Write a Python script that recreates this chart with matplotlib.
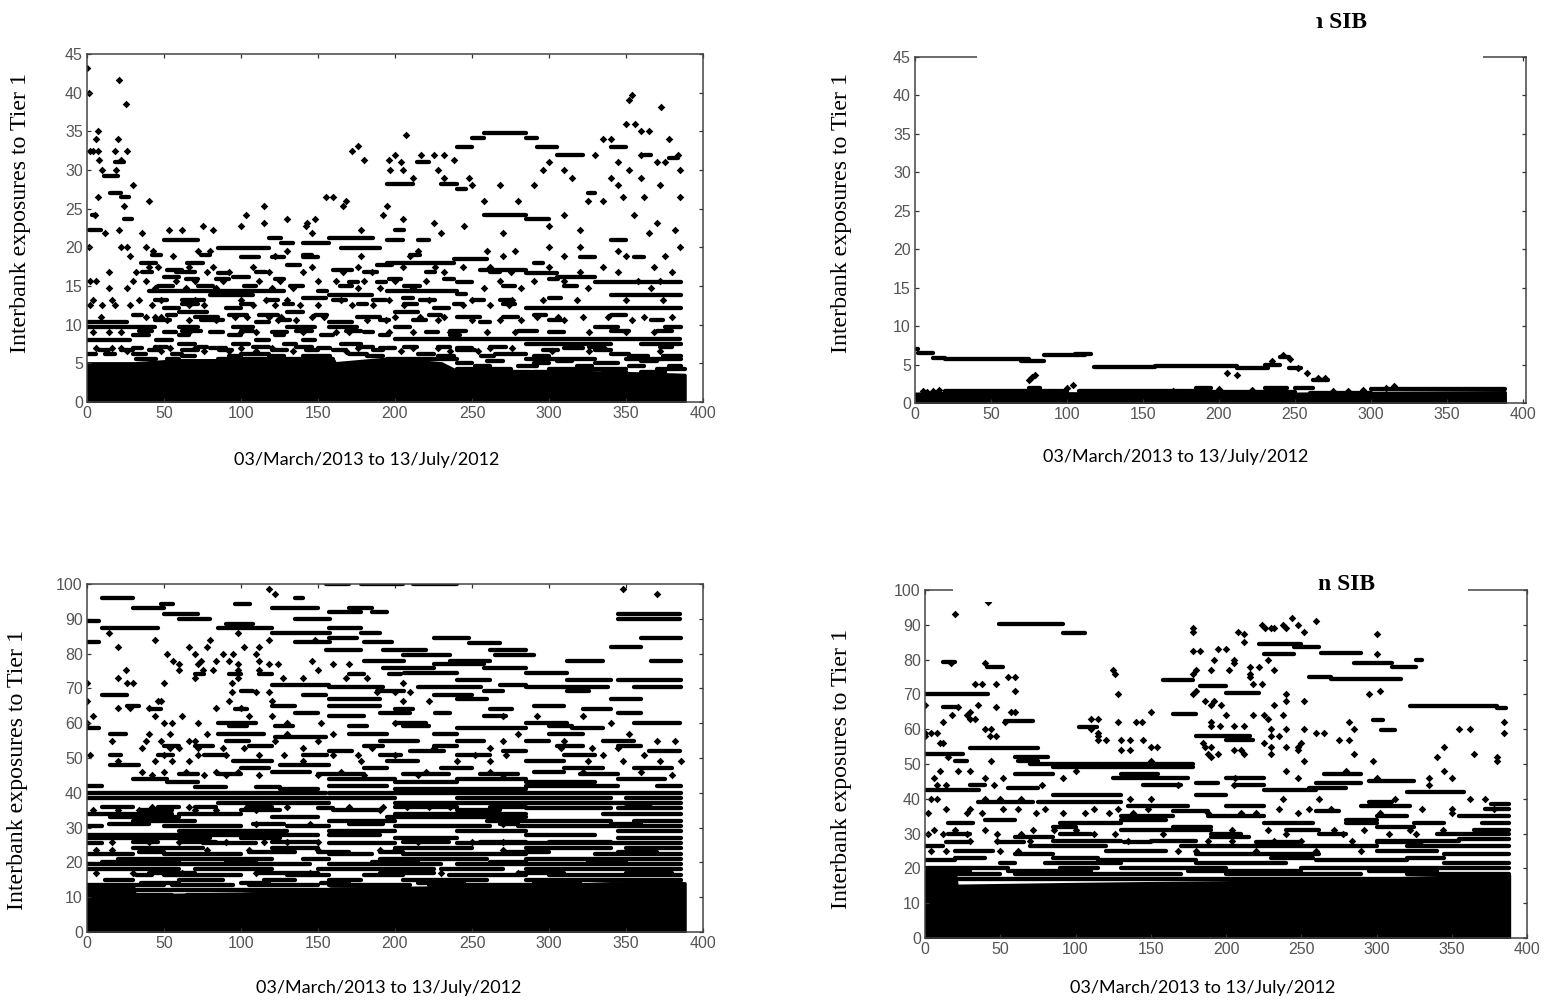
import matplotlib
matplotlib.use("Agg")
import matplotlib.pyplot as plt
from matplotlib.patches import Rectangle

W, H = 1547, 1001
X_TICKS = [0, 50, 100, 150, 200, 250, 300, 350, 400]
Y_LABEL = "Interbank exposures to Tier 1"
X_LABEL = "03/March/2013 to 13/July/2012"
SIB = "n SIB"

# solid black floor of each panel: x, top value
a_band_x = [0, 30, 31, 60, 160, 161, 195, 230, 240, 285, 340, 388]
a_band_y = [5.0, 5.0, 5.0, 5.4, 5.4, 5.0, 5.6, 5.0, 4.0, 4.0, 3.8, 3.5]
b_band_x = [0, 20, 190, 250, 300, 388]
b_band_y = [1.2, 1.3, 1.2, 1.2, 1.3, 1.4]
c_band_x = [0, 30, 31, 100, 157, 158, 285, 340, 388]
c_band_y = [13, 13, 10.5, 11, 12, 12.5, 13, 14, 14]
d_band_x = [0, 20, 21, 100, 200, 300, 388]
d_band_y = [18, 18, 15, 15.5, 16, 17, 18]

# horizontal streaks: (value, [x0, x1, x0, x1, ...])
a_runs = [
 (34.8,[258,285]),(34.2,[250,258,285,292]),(33,[240,250,292,305,340,350]),(32,[305,322,362,366]),(31.5,[378,384]),
 (31,[18,24,214,222]),(29.2,[11,20]),(28.2,[195,212,230,240]),(27.5,[240,246]),(27,[15,22,325,330]),(26.5,[22,27]),
 (24.2,[3,6,258,285]),(23.6,[24,29,285,300]),(22.2,[1,9,200,206]),(21,[50,72,195,205,215,222,340,350]),(21.2,[118,126,157,186]),
 (20.6,[126,134,140,157]),(19.9,[85,118,165,190]),(18.8,[100,112,120,128,140,150,320,330,355,362]),(18,[35,45,65,75,195,238,290,296]),
 (18.5,[238,260]),(17.7,[188,198,130,138]),(17.1,[255,285,160,172,52,62]),(16.7,[285,305,85,92]),(16.1,[305,330,50,60,95,105]),
 (15.5,[330,386,170,176,188,194,240,250]),(14.3,[40,128,195,240,150,156]),(13.9,[80,108,157,185,340,386]),(14,[240,246]),
 (13.4,[140,155,205,212,300,308]),(12.1,[50,60,285,386,90,100,225,235]),(11.6,[60,78,130,140,200,215]),(11,[175,190,240,255,270,280,70,85]),
 (10.3,[0,26,157,172,255,262,110,118]),(9.7,[0,44,157,175,60,72,95,108,130,148,200,210,330,345,375,386]),
 (9,[50,58,80,88,120,130,180,186,220,228,300,310]),(8.2,[200,385]),(8,[0,28,45,55,110,118,140,148]),
 (7.5,[60,70,95,105,128,136,165,178,285,340,360,386]),(7,[30,36,80,90,150,158,190,200,240,250,310,322]),
 (6.2,[0,6,12,18,30,38,55,62,100,118,170,182,215,225,265,285,340,352]),(5.6,[32,45,52,60,85,160,195,240,285,330,350,386]),
 (5.0,[240,250,290,300,330,345]),(4.3,[240,275,300,350,370,388]),
 (19,[42,48,74,80,140,146,210,216]),(16.8,[36,42,58,70,110,116,180,188,220,226,262,268]),(15.9,[64,72,84,92,122,128,196,204,232,238,300,306]),
 (15,[46,56,72,82,102,110,132,140,164,172,206,216,270,278,310,318]),(13.2,[44,52,62,76,116,124,160,168,186,194,216,226,250,258,268,276]),
 (12.7,[62,72,100,108,128,134,176,182,206,214,238,244,270,278]),(11.2,[30,36,52,58,92,104,112,124,148,156,222,230,290,298,340,350]),
 (10.6,[44,54,74,88,124,132,190,196,212,220,300,308,366,374]),(9.2,[34,42,62,74,100,108,136,146,168,178,236,246,280,292,340,352,370,380]),
 (8.6,[30,40,60,66,92,100,122,128,152,160,190,196,236,242]),(7.1,[44,52,72,78,108,118,136,146,176,186,206,214,228,236,262,272,326,336,372,380]),
 (6.7,[8,14,22,30,40,46,62,72,86,94,120,130,142,150,160,168,186,192,240,252,296,306,330,340]),
 (6.0,[62,70,92,100,118,128,140,158,182,192,228,238,256,264,290,300,352,364,374,386]),(5.3,[260,270,305,315,360,370]),
 (4.7,[252,262,280,292,318,328,352,362,378,386]),(3.9,[250,260,290,310,335,350,360,375]),
]
# isolated marks: (value, [x, x, ...])
a_rows = [
 (43.2,[0]),(41.6,[21]),(40,[1]),(39.7,[354]),(39,[352]),(38.5,[25]),(38.2,[373]),(36,[350,356]),(35,[7,360,365]),(34.5,[207]),
 (34,[6,20,335,340,378]),(33.1,[176]),(32.5,[2,4,7,18,26,172]),(32,[200,217,225,232,330,360,384]),(31.3,[8,22,180,196,238]),
 (31,[204,300,345,370,375]),(30,[10,19,197,205,228,296,310,352,385]),(29,[212,232,248,315,340,360]),(28,[30,250,268,290,345,372]),
 (26.5,[7,155,160,348,362,385]),(26,[40,168,258,280,325,335]),(25.3,[115,166,24,195]),(24.2,[5,103,192,310,355]),(23.6,[130,148,205]),
 (23.2,[115,143,225,370]),(22.8,[75,100,142,245,300]),(22.3,[21,53,62,82,178,320,382]),(21.8,[12,36,146,230,270,365]),
 (20,[1,22,26,38,300,320,385]),(19.5,[43,72,80,130,215,260,278,345]),(18.9,[28,56,122,178,210,270,310,350,375]),
 (17.4,[40,46,66,82,108,146,176,205,226,244,262,300,335,368]),(16.8,[14,32,78,92,118,140,166,185,232,275,320,345,380]),
 (15.6,[2,6,30,38,58,70,88,112,125,150,162,180,200,220,268,290,310,358,372]),(14.8,[14,26,44,64,84,120,134,176,190,212,258,282,325,366]),
 (13.2,[4,16,34,48,70,100,116,130,165,196,222,250,276,296,318,350,374]),(12.6,[2,10,18,28,42,66,76,108,122,138,150,172,186,206,244,262,274]),
 (11,[9,38,44,48,96,104,118,126,146,154,200,216,232,292,306,322,338,362,380]),(10.6,[52,66,84,124,136,182,194,228,250,268,282,310,354]),
 (9,[4,14,22,36,66,100,110,140,162,170,196,212,236,260,278,326,350,368]),(7,[6,16,22,44,54,70,100,120,144,176,212,228,262,276,336]),
 (6.6,[26,48,76,92,110,134,168,204,236,254,302,326,372]),
]

b_runs = [
 (7,[0,2]),(6.5,[2,12]),(5.9,[12,20]),(5.7,[20,75]),(5.5,[70,85]),(6.3,[85,112]),(6.4,[105,116]),(4.7,[118,158]),(4.85,[158,212]),
 (4.6,[212,232]),(5.0,[230,240]),(6.0,[240,246]),(4.6,[246,254]),(3.0,[262,272]),(1.6,[20,100,108,190]),(1.4,[190,250]),(2.0,[250,262]),
 (1.8,[300,388]),(1.3,[260,300]),(1.9,[75,82,185,195,230,245]),
]
b_rows = [
 (6.3,[242]),(5.7,[247]),(5.5,[235]),(4.6,[252]),(3.9,[205,258]),(3.7,[79,212]),(3.4,[77]),(3.2,[265,270]),(3.0,[75]),
 (2.3,[104]),(2.2,[315]),(2.0,[100,310]),(1.8,[200]),(1.7,[16,222,295]),(1.6,[5,285]),(1.5,[12,170,275]),(1.4,[8,180]),(1.2,[150]),
]

c_runs = [
 (100,[155,170,178,205,212,240]),(96,[10,30,135,140]),(94.3,[48,56,96,106]),(93,[30,50,120,150,170,185]),(91.5,[50,72,345,385]),
 (90,[60,80,135,158,345,385]),(92,[157,178,185,195]),(89.5,[0,8]),(87.3,[10,46,85,120,157,178]),(88.5,[90,108]),(86,[120,158,178,190]),
 (84.5,[157,175,360,386]),(83.3,[0,8,135,158,180,198]),(84.5,[225,248]),(83,[248,268]),(81,[155,178,192,220,262,285]),(82,[340,360]),
 (78,[180,206,236,262,312,335,366,386]),(79.5,[205,236,265,290]),(76,[192,225,258,285]),(77,[225,258]),(74.5,[206,240,285,312]),
 (72.5,[240,262,312,340,345,386]),(71,[120,157,268,285]),(70.3,[157,192,215,256,285,338,355,386]),(68,[10,26,225,250,140,155]),
 (67,[157,190,240,260,340,360]),(65,[157,190,26,34,120,135,290,310]),(63,[135,150,190,210,226,236,345,360]),(62,[157,180,258,272]),
 (60,[85,110,200,220,285,312,355,385]),(58.5,[0,8,240,285,315,335]),(57,[15,25,85,115,170,195,225,240,300,322]),(56,[122,155]),
 (55,[90,105,190,215,240,258,285,300,335,355]),(52,[157,172,210,232,270,285,365,385]),(49,[95,120,195,215,285,310]),(48,[15,34,125,157]),
 (47,[100,118,180,195,230,250,310,335,355,380]),(46,[120,145,290,310]),(44,[30,52,157,200,240,285,345,375]),(43,[52,72,200,240,285,330]),
 (42,[0,10,157,195,285,345,370,386]),(41,[125,150,200,285]),(40,[0,70,70,155,157,285,285,386]),(38.5,[0,120,120,158,157,200,240,340,350,386]),
 (37,[85,157,200,285,285,386]),(35.5,[150,160,285,340,345,386]),(34,[0,55,60,100,200,285,335,386]),(33,[15,60,120,150,195,285]),
 (32,[30,70,157,200,260,340,355,386]),(30.5,[0,10,50,100,130,157,200,262,280,386]),(29,[60,130,157,200,240,285,345,386]),
 (28,[0,36,36,150,157,190,285,330]),(27,[0,80,100,125,200,240,345,386]),(25.5,[0,10,75,110,157,200,240,285,285,386]),
 (24,[30,75,120,150,200,250,285,340,350,386]),(22.5,[0,30,50,100,157,185,205,285,330,386]),(21,[20,120,140,157,190,260,285,386]),
 (19.5,[0,145,157,230,240,386]),(18,[0,60,70,120,150,225,230,270,285,386]),(16.5,[32,42,50,100,130,157,180,205,235,285,300,386]),
 (15,[12,30,60,88,115,135,157,178,205,260,285,386]),(13.5,[0,50,55,95,105,150,157,210,222,386]),(12,[0,160,160,285,285,386]),
 (10.5,[0,55,65,130,140,210,240,386]),
 (74,[70,76,92,100,112,120,170,180,196,204]),(69.3,[100,108,188,206,258,270,312,326]),(64,[40,48,96,104,200,212,262,276,322,340]),
 (59.3,[92,104,122,134,170,182,205,222,300,315]),(53.5,[50,60,70,82,105,120,180,192,225,240,305,322,345,360]),
 (51,[15,22,46,56,76,90,140,156,190,204,240,262,310,330]),(45.5,[60,72,85,100,150,180,205,235,255,280,320,345]),
 (41.7,[70,90,110,125]),(36,[10,30,46,60,70,84,104,120,200,240,262,285,350,366]),(35,[35,55,100,125,160,190,240,268]),
 (31,[14,40,108,128,170,192,268,280,340,360]),(26,[30,46,62,84,120,150,205,235,255,285,300,340]),(23,[34,50,105,135,150,170,190,205,270,300,345,370]),
 (20.2,[10,60,90,110,185,215,262,285,325,350]),(17,[40,70,110,150,190,225,280,310,350,380]),(14.2,[35,60,100,118,152,170,215,245,290,320,350,386]),
]
c_rows = [
 (98.5,[118,348]),(97,[122,370]),(86,[14,98]),(84,[44,80,118,148]),(82,[20,66,78,102,112]),(80,[52,70,88,95,110]),(78,[56,74,84,92,112,146]),
 (77,[60,72,98,118,124,160,170]),(75.3,[25,60,75,82,98,112,150]),(73,[20,70,98,127,140,168,182]),(71.5,[0,26,30,50,94,205]),
 (69,[94,110,118,188,200,210]),(66.5,[0,46,48,92,120,205,222]),(64.5,[20,28,84,40,100]),(62,[4,44,62,120,105,270,292,322]),(60,[0,50,55,72,130,152,200,340]),
 (57,[40,54,78,130,160,280,352]),(55,[16,38,48,66,70,122,150,270,310,370,382]),(53,[36,54,60,72,88,102,140,185,225,262,308,328,345]),
 (51,[2,50,72,90,112,128,160,176,200,252,272,335,362]),(49,[20,44,55,66,140,178,240,262,325,348,372,386]),(46,[36,50,64,84,98,165,220,262,322,360]),
 (45,[42,76,90,112,150,180,215,270,380]),(36,[42,66,104,130,170,192,208,222,236]),(35,[4,20,34,54,70,84,110,190]),(31,[110,145,270]),
 (26,[16,40,60,90,115,130,150,215,250,270]),(23.5,[6,16,44,78,105,130,150,190,200,270]),(17,[6,30,62,110,145,230,280]),(12,[6,20,28]),
]

d_runs = [
 (90.3,[49,92]),(87.6,[92,106]),(79.2,[12,20]),(78,[41,52]),(70.2,[0,42]),(66.5,[12,22]),(62.5,[53,72]),(60.5,[102,114]),
 (64.3,[165,180]),(74.2,[158,178]),(72.3,[183,200]),(70.4,[200,222]),(58,[180,216]),(57,[200,218]),(84.5,[222,250]),(81.5,[225,245]),
 (83.5,[245,262]),(82,[263,290]),(75,[255,270]),(74.3,[270,316]),(79,[285,310]),(78,[310,326]),(80,[326,330]),(66.7,[322,380]),
 (66.2,[380,386]),(62.7,[298,304]),(59.7,[303,312]),(53,[0,25]),(54.5,[30,75]),(52,[60,82]),(51,[62,75,20,28]),(50,[115,178,70,115]),
 (49,[85,178]),(47,[60,85,130,155,265,290]),(46,[125,175,200,225]),(45,[295,325]),(44.5,[180,195,260,290]),(42.5,[0,36,225,260]),
 (42,[320,358]),(43,[55,75,255,280]),(41,[85,130,180,200]),(39,[35,72,75,130,295,310]),(38,[135,175,200,225,290,322]),(36.5,[165,188,260,275]),
 (35,[130,165,188,225,300,320,355,388]),(33,[15,32,90,130,225,258,280,300,325,345]),(31,[130,190,240,262,365,388]),(29,[60,85,190,215]),
 (28,[85,130,150,180,300,355]),(26.5,[0,12,70,120,170,220,220,300,320,388]),(25,[20,45,120,160,300,340]),(24,[60,85,180,262,345,388]),
 (22.5,[0,20,115,180,260,320]),(21.5,[50,60,80,130,180,240,345,388]),(20,[0,55,90,115,130,200,250,388]),(18.5,[0,50,60,170,200,290,320,388]),
 (17,[0,388]),(38.5,[376,388]),(37,[372,388]),(33,[370,388]),(30,[340,388]),(28.5,[355,388]),
 (34,[40,60,130,160,280,300]),(30,[15,30,90,110,190,210,262,280]),(27.5,[14,30,48,66,132,150,220,250,300,330]),(23,[20,40,85,115,230,258,320,345]),
 (19.2,[0,30,55,110,175,250,295,340]),(32,[85,100,165,190,300,325]),(44,[30,40,145,170,205,225]),
]
d_rows = [
 (96.5,[42]),(93.2,[20]),(92,[244]),(91,[260]),(90,[224,238,248]),(89,[226,230,232,178,240]),(88,[178,208,252]),(87.5,[212,300]),(85,[212]),
 (82.5,[178,183]),(83,[195,200]),(81.5,[300]),(80,[192,205,228]),(79,[17,40,205]),(78,[216,222]),(77,[125,180,190,202,232]),(76,[126,178,216]),
 (75,[55,60,216]),(73,[33,38,47,218,224]),(71,[60,180,302]),(70,[128,178,240,295]),(68,[186,192,240,252]),(67,[0,35,197,190,232]),(66.5,[47,22]),
 (65,[57,60,150,30]),(64,[18,28,218,200,225,238]),(63,[30,33,110,115,228]),(62,[12,53,128,140,144,190,282,385]),(61,[190,196,205,212]),
 (60,[40,44,110,230,240,252,285,355,362]),(59,[0,4,8,115,260,265,385]),(58,[0,43,47,115,230,235]),(57,[115,120,130,136,145,275,282]),
 (56,[10,12,185,225,250]),(55,[150,154,186,190,230,240,248,345]),(54,[248,130,136,205,210]),(53,[188,195,212,230,285,365]),(52,[15,190,340,380]),
 (51,[44,150,252,298,380]),(48,[10,22,30,100,240,280,345]),(46,[6,40,52,92,206,248,300,335,350]),(44,[8,14,46,78,168,205,335]),(40,[4,8,40,50,64,136,150,238,262,312,362,372]),
 (37,[14,30,52,62,80,112,128,148,235,255,270,330,350,378]),(36,[2,28,38,74,92,106,122,138,188,210,220,248,302,350]),(31,[6,20,40,72,86,100,204,228,272,292,322,344]),
 (30,[2,12,28,48,64,112,126,158,240,278,308,326]),(28,[30,48,70,135,188,204,232,250,284]),(25,[4,14,50,62,168,180,220,260,290]),
]


def px_axes(left, right, top, bottom):
    return plt.gcf().add_axes([left / W, 1 - bottom / H, (right - left) / W, (bottom - top) / H])


def panel(box, xlim, ymax, yticks, band_x, band_y, runs, rows, caption_xy, label_xy):
    ax = px_axes(*box)
    ax.set_xlim(0, xlim)
    ax.set_ylim(0, ymax)
    ax.fill_between(band_x, 0, band_y, color="black", lw=2.5)
    for level, segs in runs:
        ax.hlines([level] * (len(segs) // 2), segs[0::2], segs[1::2], colors="black", lw=3.1, capstyle="round")
    for level, xs in rows:
        ax.scatter(xs, [level] * len(xs), s=15, marker="D", c="black", linewidths=0)
    ax.set_xticks(X_TICKS)
    ax.set_yticks(yticks)
    ax.tick_params(direction="in", length=3, width=0.9, top=True, right=True, colors="#333333",
                   labelsize=11.5, pad=3, labelcolor="#555555")
    for s in ax.spines.values():
        s.set_color("#444444")
        s.set_linewidth(1.1)
    for t in ax.get_xticklabels() + ax.get_yticklabels():
        t.set_family("Liberation Sans")
    plt.gcf().text(label_xy[0] / W, 1 - label_xy[1] / H, Y_LABEL, rotation=90, ha="center", va="center",
                   family="Liberation Serif", fontsize=17.2)
    plt.gcf().text(caption_xy[0] / W, 1 - caption_xy[1] / H, X_LABEL, ha="center", va="center",
                   family="Lato", fontsize=13)
    return ax


fig = plt.figure(figsize=(W / 100, H / 100), dpi=100, facecolor="white")

panel((87, 703, 54, 402), 400, 45, list(range(0, 50, 5)), a_band_x, a_band_y, a_runs, a_rows, (367, 460), (21, 213))
panel((915, 1526, 57, 403), 402, 45, list(range(0, 50, 5)), b_band_x, b_band_y, b_runs, b_rows, (1176, 457), (842, 213))
panel((87, 703, 584, 932), 400, 100, list(range(0, 110, 10)), c_band_x, c_band_y, c_runs, c_rows, (389, 988), (18, 770))
panel((925, 1527, 590, 938), 400, 100, list(range(0, 110, 10)), d_band_x, d_band_y, d_runs, d_rows, (1203, 988), (842, 769))

# white cover pieces that hide parts of the titles and frames in the source
for x0, x1, y0, y1 in [(977, 1483, 0, 62), (953, 1468, 560, 602)]:
    fig.add_artist(Rectangle((x0 / W, 1 - y1 / H), (x1 - x0) / W, (y1 - y0) / H, transform=fig.transFigure,
                             facecolor="white", edgecolor="none", zorder=5))
fig.text(1339 / W, 1 - 22 / H, SIB, ha="center", va="center", family="Liberation Serif", weight="bold", fontsize=17, zorder=6)
fig.add_artist(Rectangle((1295 / W, 1 - 40 / H), 21 / W, 30 / H, transform=fig.transFigure, facecolor="white", edgecolor="none", zorder=7))
fig.text(1346 / W, 1 - 585 / H, SIB, ha="center", va="center", family="Liberation Serif", weight="bold", fontsize=17, zorder=6)

fig.savefig("out.png", dpi=100)
